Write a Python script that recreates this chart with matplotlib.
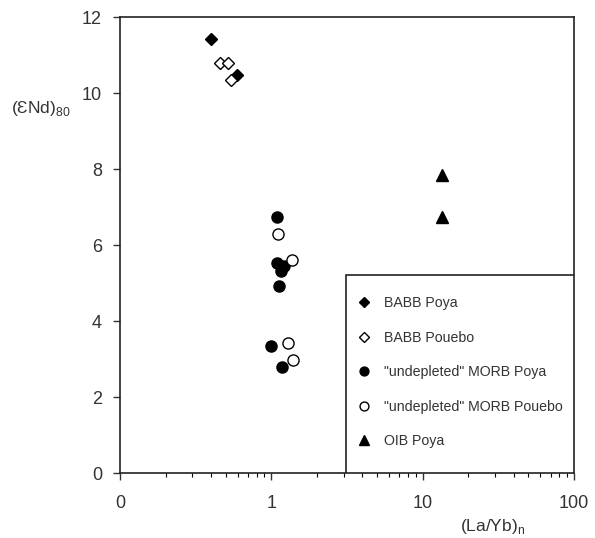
# -*- coding: utf-8 -*-
""" eNd(80) vs (La/Yb)n, Poya / Pouebo basalts """
import numpy as np
import matplotlib
matplotlib.use('Agg')
import matplotlib.pyplot as plt
from matplotlib.patches import Rectangle
from matplotlib.ticker import FixedLocator, LogLocator, NullFormatter

plt.rcParams['font.family'] = ['Liberation Sans', 'DejaVu Sans']

#%% Daten
babb_poya_x = [0.40, 0.59]
babb_poya_y = [11.42, 10.47]
babb_pouebo_x = [0.46, 0.52, 0.54]
babb_pouebo_y = [10.80, 10.80, 10.34]
morb_poya_x = [1.09, 1.09, 1.22, 1.15, 1.13, 1.00, 1.17]
morb_poya_y = [6.75, 5.52, 5.45, 5.32, 4.93, 3.35, 2.80]
morb_pouebo_x = [1.11, 1.36, 1.28, 1.39]
morb_pouebo_y = [6.28, 5.60, 3.43, 2.98]
oib_poya_x = [13.4, 13.4]
oib_poya_y = [7.84, 6.74]

x_ticks = [0.1, 1, 10, 100]
x_ticklabels = ['0', '1', '10', '100']
y_ticks = [0, 2, 4, 6, 8, 10, 12]

#%% Plot
fig = plt.figure(figsize=(5.95, 5.38), dpi=100)
ax = fig.add_axes([0.2017, 0.1208, 0.7630, 0.8476])

ax.plot(babb_poya_x, babb_poya_y, 'D', ms=6.5, mfc='k', mec='k', label='BABB Poya')
ax.plot(babb_pouebo_x, babb_pouebo_y, 'D', ms=6.5, mfc='white', mec='k', mew=1.0,
        label='BABB Pouebo')
ax.plot(morb_poya_x, morb_poya_y, 'o', ms=8, mfc='k', mec='k',
        label='"undepleted" MORB Poya')
ax.plot(morb_pouebo_x, morb_pouebo_y, 'o', ms=8, mfc='white', mec='k', mew=1.0,
        label='"undepleted" MORB Pouebo')
ax.plot(oib_poya_x, oib_poya_y, '^', ms=9, mfc='k', mec='k', label='OIB Poya')

ax.set_xscale('log')
ax.set_xlim(0.1, 100)
ax.set_ylim(0, 12)
ax.xaxis.set_major_locator(FixedLocator(x_ticks))
ax.set_xticklabels(x_ticklabels)
ax.xaxis.set_minor_locator(LogLocator(base=10, subs=np.arange(2, 10)))
ax.xaxis.set_minor_formatter(NullFormatter())
ax.set_yticks(y_ticks)

ax.tick_params(axis='both', which='major', direction='out', length=5, width=1,
               labelsize=13, colors='#333333', labelcolor='#333333')
ax.tick_params(axis='x', which='major', pad=11)
ax.tick_params(axis='y', which='major', pad=8)
ax.tick_params(axis='x', which='minor', direction='out', length=3, width=0.8)
for s in ax.spines.values():
    s.set_linewidth(1.2)
    s.set_color('#222222')

ax.set_xlabel('(La/Yb)$_\\mathregular{n}$', fontsize=12.5, color='#333333')
ax.xaxis.set_label_coords(0.82, -0.097)
ax.set_ylabel('(\u0190Nd)$_\\mathregular{80}$', fontsize=12.5, rotation=0,
              color='#333333', va='center')
ax.yaxis.set_label_coords(-0.175, 0.80)

# Legendenkasten unten rechts
box = Rectangle((0.497, 0.0), 0.503, 0.434, transform=ax.transAxes,
                fill=True, facecolor='white', edgecolor='#222222', lw=1.2,
                zorder=4)
ax.add_patch(box)
leg = ax.legend(loc='upper left', bbox_to_anchor=(0.526, 0.388),
                fontsize=10.2, frameon=False, borderaxespad=0, borderpad=0,
                handletextpad=0.95, labelspacing=1.45, handlelength=0.8,
                markerscale=0.8)
leg.set_zorder(5)
for t in leg.get_texts():
    t.set_color('#333333')

fig.savefig('out.png', dpi=100)
